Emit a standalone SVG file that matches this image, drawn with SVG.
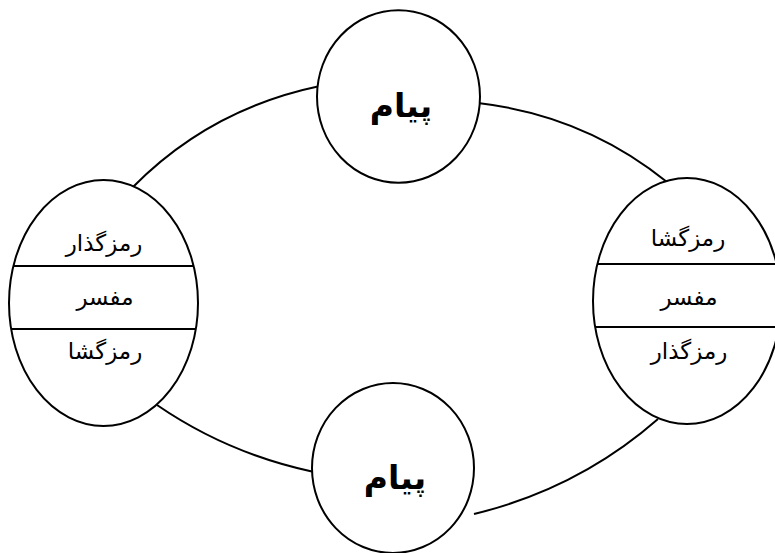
<svg xmlns="http://www.w3.org/2000/svg" width="775" height="553" viewBox="0 0 775 553">
  <style>
    .edge { fill: none; stroke: #000; stroke-width: 2; }
    .shape { fill: #fff; stroke: #000; stroke-width: 2; }
    .rule { stroke: #000; stroke-width: 2; }
    .label { font-family: 'DejaVu Sans', sans-serif; font-size: 23px; fill: #000; text-anchor: middle; }
    .title { font-family: 'DejaVu Sans', sans-serif; font-size: 33px; font-weight: bold; fill: #000; text-anchor: middle; }
  </style>
  <defs>
    <clipPath id="clip-left"><ellipse cx="103.5" cy="303" rx="94.5" ry="123"/></clipPath>
    <clipPath id="clip-right"><ellipse cx="687" cy="301" rx="94" ry="123"/></clipPath>
  </defs>
  <rect width="775" height="553" fill="#fff"/>

  <!-- ring of arcs joining the four nodes -->
  <g id="connectors">
    <path class="edge" d="M133,187 Q209.8,109 320,86"/>
    <path class="edge" d="M478,103 Q584.9,115.5 667,182"/>
    <path class="edge" d="M157,405 Q227.9,453.7 314,472"/>
    <path class="edge" d="M658,419 Q578.6,488.6 474,514"/>
  </g>

  <g id="message-top">
    <ellipse class="shape" cx="398.5" cy="96.5" rx="81.5" ry="86.3"/>
    <text class="title" x="401" y="117">پیام</text>
  </g>

  <g id="message-bottom">
    <ellipse class="shape" cx="393" cy="468" rx="81" ry="85"/>
    <text class="title" x="395" y="489">پیام</text>
  </g>

  <g id="party-left">
    <ellipse class="shape" cx="103.5" cy="303" rx="94.5" ry="123"/>
    <g clip-path="url(#clip-left)">
      <line class="rule" x1="0" y1="266" x2="210" y2="266"/>
      <line class="rule" x1="0" y1="329" x2="210" y2="329"/>
    </g>
    <text class="label" x="104" y="251">رمزگذار</text>
    <text class="label" x="105" y="305">مفسر</text>
    <text class="label" x="105" y="359">رمزگشا</text>
  </g>

  <g id="party-right">
    <ellipse class="shape" cx="687" cy="301" rx="94" ry="123"/>
    <g clip-path="url(#clip-right)">
      <line class="rule" x1="580" y1="264" x2="790" y2="264"/>
      <line class="rule" x1="580" y1="327" x2="790" y2="327"/>
    </g>
    <text class="label" x="688" y="246">رمزگشا</text>
    <text class="label" x="689" y="305">مفسر</text>
    <text class="label" x="689" y="359">رمزگذار</text>
  </g>
</svg>
